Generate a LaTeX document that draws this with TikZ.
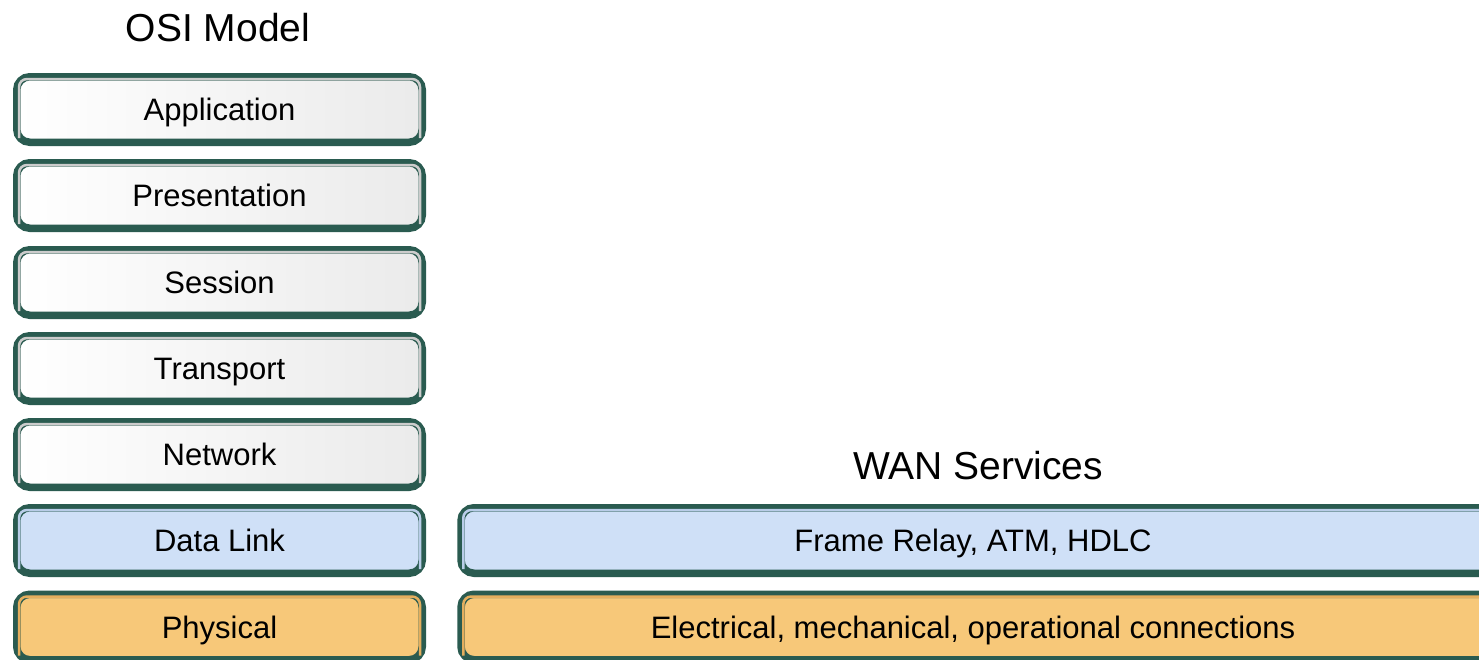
\documentclass[tikz,border=0pt]{standalone}
\usepackage{fontspec}
\setmainfont{Liberation Sans}
\definecolor{rim}{HTML}{2A5B50}
\definecolor{bluefill}{HTML}{CFE0F7}
\definecolor{bluebev}{HTML}{B9CDE8}
\definecolor{orfill}{HTML}{F7C879}
\definecolor{orbev}{HTML}{E4AE5E}
\tikzset{
  layer/.style={draw=rim, line width=7.5pt, rounded corners=13pt, inner sep=0pt,
    font=\fontsize{31}{33}\selectfont, text height=22.2pt, text depth=0pt},
  graylayer/.style={layer, left color=white, right color=gray!16},
  bluelayer/.style={layer, fill=bluefill},
  orlayer/.style={layer, fill=orfill},
  leftbox/.style={minimum width=405.5pt, minimum height=65.5pt},
  rightbox/.style={minimum width=1040pt, minimum height=65.5pt},
  title/.style={font=\fontsize{39}{42}\selectfont, inner sep=0pt, text height=28pt, text depth=0pt},
  bevel/.style={line width=2.5pt, rounded corners=8pt},
}
\begin{document}
\begin{tikzpicture}[x=1pt,y=-1pt]
\useasboundingbox (0,0) rectangle (1479,659);
\clip (0,0) rectangle (1479,659);
\fill[white] (0,0) rectangle (1479,659);
\node[title] (osi) at (218,27) {OSI Model};
\node[title] (wan) at (978,465) {WAN Services};
\node[graylayer, leftbox] (app) at (219.5,109.5) {Application};
\node[graylayer, leftbox] (pre) at (219.5,195.5) {Presentation};
\node[graylayer, leftbox] (ses) at (219.5,282.5) {Session};
\node[graylayer, leftbox] (tra) at (219.5,368.5) {Transport};
\node[graylayer, leftbox] (net) at (219.5,454.5) {Network};
\node[bluelayer, leftbox] (dl) at (219.5,540.5) {Data Link};
\node[orlayer, leftbox] (phy) at (219.5,627) {Physical};
\node[bluelayer, rightbox] (wdl) at (981,540.5) {\hspace*{-16pt}Frame Relay, ATM, HDLC};
\node[orlayer, rightbox] (wphy) at (981,627) {\hspace*{-16pt}Electrical, mechanical, operational connections};
\foreach \n/\c in {app/gray!40,pre/gray!40,ses/gray!40,tra/gray!40,net/gray!40,dl/bluebev,wdl/bluebev,phy/orbev,wphy/orbev}{
  \draw[bevel, draw=\c]
    ([xshift=6pt,yshift=8pt]\n.south west) -- ([xshift=6pt,yshift=-6pt]\n.north west)
    -- ([xshift=-6pt,yshift=-6pt]\n.north east) -- ([xshift=-6pt,yshift=8pt]\n.south east);
}
\end{tikzpicture}
\end{document}
